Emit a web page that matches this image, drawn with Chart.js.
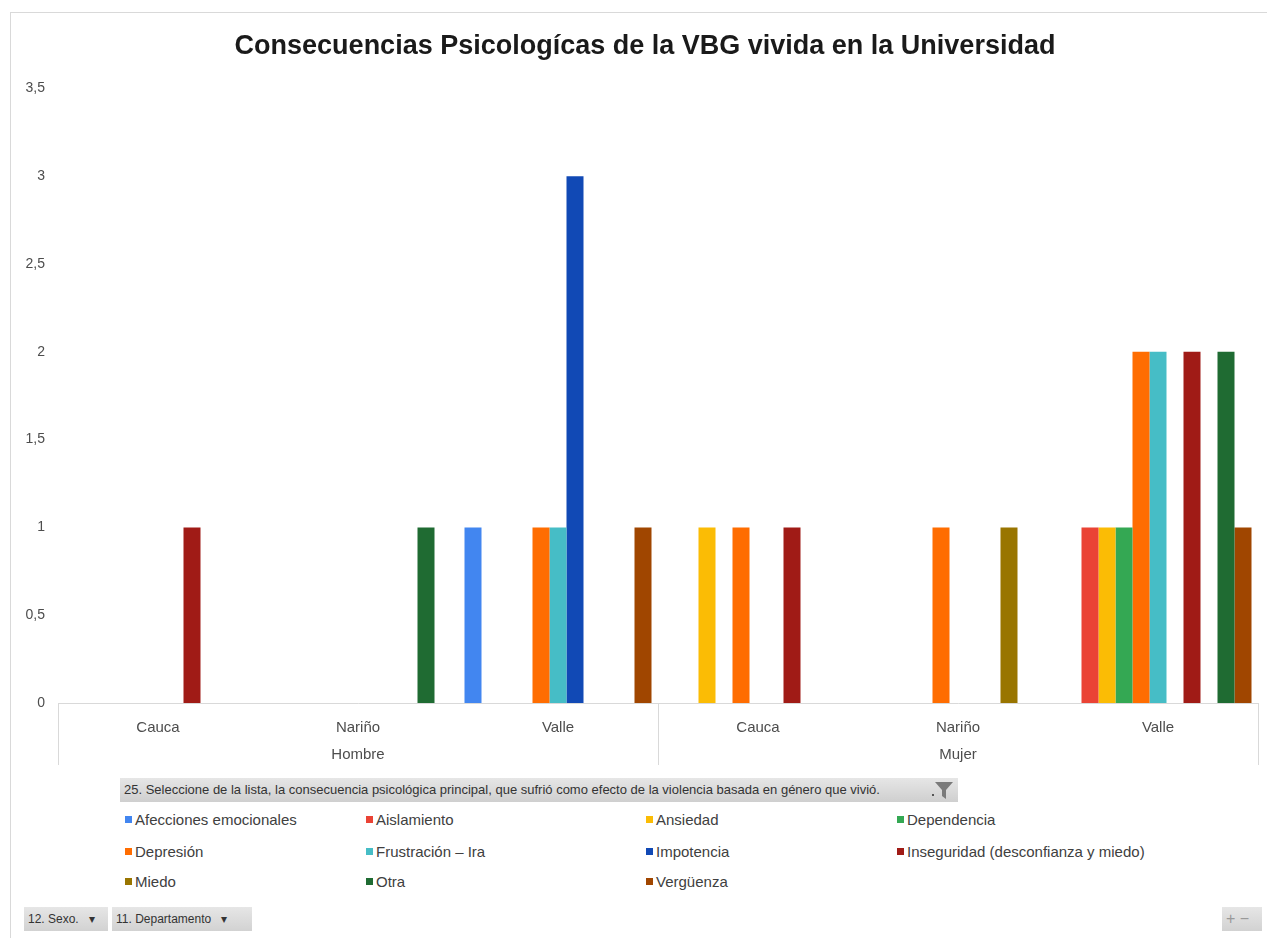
<!DOCTYPE html>
<html lang="es">
<head>
<meta charset="utf-8">
<title>Consecuencias Psicológicas de la VBG</title>
<script src="https://cdn.jsdelivr.net/npm/chart.js"></script>
<style>
body{margin:0;background:#fff;font-family:"Liberation Sans",Arial,sans-serif;overflow:hidden;}
#marco{position:absolute;left:10px;top:12px;width:1262px;height:935px;border:1px solid #d9d9d9;box-sizing:border-box;}
#grafico{position:absolute;left:0;top:0;}
#campo{position:absolute;left:120px;top:778px;width:838px;height:24px;background:linear-gradient(#e6e6e6,#cfcfcf);
  font-size:13px;color:#333;line-height:24px;padding-left:4px;box-sizing:border-box;white-space:nowrap;}
#campo svg{position:absolute;right:4px;top:2px;}
.item{position:absolute;font-size:15px;color:#404040;white-space:nowrap;}
.item i{display:inline-block;width:7px;height:7px;margin-right:3px;vertical-align:2px;}
.boton{position:absolute;top:907px;height:24px;line-height:24px;background:linear-gradient(#e6e6e6,#d2d2d2);
  font-size:12px;color:#333;padding:0 4px;box-sizing:border-box;white-space:nowrap;}
</style>
</head>
<body>
<div id="marco"></div>
<canvas id="grafico" width="1290" height="775"></canvas>
<div id="campo">25. Seleccione de la lista, la consecuencia psicológica principal, que sufrió como efecto de la violencia basada en género que vivió.
  <svg width="22" height="20" viewBox="0 0 22 20"><polygon points="3,2 21,2 14,10 14,19 10,16 10,10" fill="#7a7a7a"/><rect x="0" y="14" width="2" height="2" fill="#555"/></svg>
</div>
<div id="leyenda"></div>
<div class="boton" style="left:24px;width:84px;">12. Sexo. &nbsp;&nbsp;▾</div>
<div class="boton" style="left:112px;width:140px;">11. Departamento &nbsp;&nbsp;▾</div>
<div class="boton" style="left:1222px;width:40px;font-size:16px;color:#999;">+ −</div>
<script>
// datos
const titulo = "Consecuencias Psicologícas de la VBG vivida en la Universidad";
const sexos = ["Hombre", "Mujer"];
const departamentos = ["Cauca", "Nariño", "Valle"];

const afecciones   = [null, null, 1, null, null, null];
const aislamiento  = [null, null, null, null, null, 1];
const ansiedad     = [null, null, null, 1, null, 1];
const dependencia  = [null, null, null, null, null, 1];
const depresion    = [null, null, 1, 1, 1, 2];
const frustracion  = [null, null, 1, null, null, 2];
const impotencia   = [null, null, 3, null, null, null];
const inseguridad  = [1, null, null, 1, null, 2];
const miedo        = [null, null, null, null, 1, null];
const otra         = [null, 1, null, null, null, 2];
const verguenza    = [null, null, 1, null, null, 1];

const nombres = ["Afecciones emocionales","Aislamiento","Ansiedad","Dependencia","Depresión","Frustración – Ira",
  "Impotencia","Inseguridad (desconfianza y miedo)","Miedo","Otra","Vergüenza"];
const series = [afecciones,aislamiento,ansiedad,dependencia,depresion,frustracion,impotencia,inseguridad,miedo,otra,verguenza];
const colores = ["#4286f0","#ea4335","#fbbc05","#34a853","#ff6d01","#46bdc6","#1149b5","#a01b16","#997500","#1f6b32","#a04600"];

const ticksY = [0, 0.5, 1, 1.5, 2, 2.5, 3, 3.5];

// etiquetas de dos niveles: departamento y, en el del medio, el sexo
let etiquetas = [];
sexos.forEach(s => {
  departamentos.forEach((d, i) => {
    etiquetas.push([d, i == 1 ? s : ""]);
  });
});

const fuente = "'Liberation Sans', Arial, sans-serif";

// lineas verticales que separan Hombre / Mujer bajo el eje
const separadores = {
  id: "separadores",
  afterDraw(chart) {
    const x = chart.scales.x;
    const ctx = chart.ctx;
    const abajo = chart.chartArea.bottom;
    ctx.save();
    ctx.strokeStyle = "#d9d9d9";
    ctx.lineWidth = 1;
    for (let g = 0; g <= sexos.length; g++) {
      const px = Math.round(x.getPixelForValue(g * departamentos.length - 0.5)) + 0.5;
      ctx.beginPath();
      ctx.moveTo(px, abajo);
      ctx.lineTo(px, abajo + 62);
      ctx.stroke();
    }
    ctx.restore();
  }
};

const grafico = new Chart(document.getElementById("grafico"), {
  type: "bar",
  data: {
    labels: etiquetas,
    datasets: series.map((d, i) => ({
      label: nombres[i],
      data: d,
      backgroundColor: colores[i],
      borderWidth: 0
    }))
  },
  options: {
    responsive: false,
    animation: false,
    layout: {padding: 0},
    datasets: {bar: {categoryPercentage: 0.935, barPercentage: 1}},
    plugins: {
      legend: {display: false},
      tooltip: {enabled: false},
      title: {
        display: true,
        text: titulo,
        color: "#1a1a1a",
        font: {family: fuente, size: 27, weight: "bold"},
        padding: {top: 30, bottom: 26}
      }
    },
    scales: {
      x: {
        grid: {display: false, drawTicks: false},
        border: {display: true, color: "#d9d9d9"},
        ticks: {color: "#4d4d4d", font: {family: fuente, size: 15, lineHeight: 1.8}, padding: 11, maxRotation: 0, autoSkip: false},
        afterFit: s => { s.height = 72; }
      },
      y: {
        min: 0,
        max: 3.5,
        afterBuildTicks: s => { s.ticks = ticksY.map(v => ({value: v})); },
        grid: {display: false, drawTicks: false},
        border: {display: false},
        ticks: {color: "#4d4d4d", font: {family: fuente, size: 14}, padding: 13,
          callback: v => String(v).replace(".", ",")},
        afterFit: s => { s.width = 58; }
      },
      // eje vacio a la derecha, solo para centrar el titulo como en el original
      margen: {
        position: "right",
        grid: {display: false, drawTicks: false},
        border: {display: false},
        ticks: {display: false},
        afterFit: s => { s.width = 32; }
      }
    }
  },
  plugins: [separadores]
});

// leyenda en 4 columnas hecha con los datasets del grafico
function leyendaHTML(chart) {
  const columnas = [125, 366, 646, 897];
  const filas = [811, 843, 873];
  let html = "";
  chart.data.datasets.forEach((ds, i) => {
    const c = columnas[i % 4];
    const f = filas[Math.floor(i / 4)];
    html += `<div class="item" style="left:${c}px;top:${f}px"><i style="background:${ds.backgroundColor}"></i>${ds.label}</div>`;
  });
  document.getElementById("leyenda").innerHTML = html;
}
leyendaHTML(grafico);
</script>
</body>
</html>
